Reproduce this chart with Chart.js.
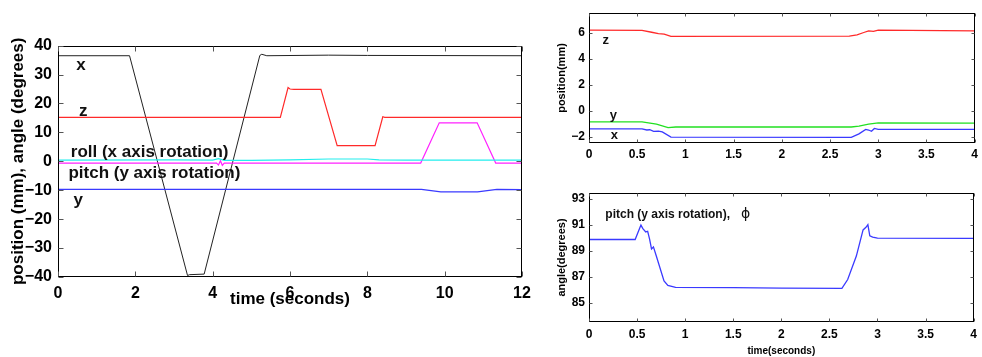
<!DOCTYPE html>
<html>
<head>
<meta charset="utf-8">
<script src="https://cdn.jsdelivr.net/npm/chart.js@4/dist/chart.umd.min.js"></script>
<style>
  body { margin: 0; background: #fff; width: 982px; height: 357px; position: relative; overflow: hidden; }
  canvas { position: absolute; }
</style>
</head>
<body>
<canvas id="motionChart" style="left:0;top:30px;width:540px;height:280px" width="540" height="280"></canvas>
<canvas id="posChart" style="left:555px;top:0;width:427px;height:170px" width="427" height="170"></canvas>
<canvas id="pitchChart" style="left:555px;top:170px;width:427px;height:187px" width="427" height="187"></canvas>
<script>
// left panel: 12 s of motion
const motionTicksX = [0, 2, 4, 6, 8, 10, 12];
const motionTicksY = [-40, -30, -20, -10, 0, 10, 20, 30, 40];

const xTime = [0, 1.85, 3.35, 3.4, 3.78, 5.22, 5.27, 5.4, 7, 8, 12];
const xVal  = [36.5, 36.5, -39.5, -39.2, -39.0, 36.6, 37.0, 36.5, 36.7, 36.6, 36.5];

const zTime = [0, 5.75, 5.95, 6.0, 6.1, 6.8, 7.22, 8.2, 8.4, 8.45, 12];
const zVal  = [15.2, 15.2, 25.5, 25.0, 24.9, 24.9, 5.4, 5.4, 15.4, 15.2, 15.2];

const rollTime = [0, 3, 4, 4.15, 4.3, 5, 6, 7, 8, 8.3, 9, 12];
const rollVal  = [0.4, 0.5, 0.4, 0.9, 0.3, 0.3, 0.5, 0.8, 0.8, 0.5, 0.4, 0.4];

const pitchTime = [0, 4.1, 4.15, 4.2, 4.25, 4.3, 9.38, 9.86, 10.84, 11.32, 12];
const pitchVal  = [-0.6, -0.6, -1.3, 0.2, -1.4, -0.6, -0.6, 13.3, 13.3, -0.6, -0.6];

const yTime = [0, 9.4, 9.9, 10.85, 11.35, 12];
const yVal  = [-9.7, -9.7, -10.6, -10.6, -9.7, -9.8];

// top right panel: position over 4 s
const shortTicksX = [0, 0.5, 1, 1.5, 2, 2.5, 3, 3.5, 4];
const posTicksY = [-2, 0, 2, 4, 6];

const posZTime = [0, 0.55, 0.65, 0.72, 0.78, 0.85, 2.7, 2.78, 2.85, 2.9, 2.95, 3.0, 4];
const posZVal  = [6.18, 6.16, 6.02, 5.92, 5.88, 5.7, 5.72, 5.82, 6.0, 6.12, 6.08, 6.18, 6.13];

const posYTime = [0, 0.55, 0.7, 0.82, 0.9, 2.72, 2.8, 2.9, 3.0, 4];
const posYVal  = [-0.87, -0.88, -1.05, -1.32, -1.27, -1.27, -1.2, -1.05, -0.95, -0.97];

const posXTime = [0, 0.55, 0.6, 0.63, 0.67, 0.72, 0.76, 0.85, 2.72, 2.8, 2.87, 2.9, 2.93, 2.96, 3.0, 4];
const posXVal  = [-1.42, -1.42, -1.5, -1.48, -1.6, -1.58, -1.65, -2.05, -2.06, -1.8, -1.45, -1.5, -1.6, -1.38, -1.45, -1.45];

// bottom right panel: pitch angle
const angleTicksY = [85, 87, 89, 91, 93];
const angleTime = [0, 0.48, 0.54, 0.56, 0.59, 0.61, 0.63, 0.65, 0.67, 0.7, 0.78, 0.82, 0.9, 1.5, 2.0, 2.63, 2.69, 2.78, 2.85, 2.88, 2.9, 2.92, 2.95, 3.0, 4];
const angleVal  = [89.87, 89.87, 90.97, 90.7, 90.45, 90.5, 89.9, 89.15, 89.3, 88.6, 86.7, 86.35, 86.2, 86.18, 86.15, 86.12, 86.8, 88.6, 90.6, 90.8, 91.0, 90.15, 90.05, 89.98, 89.95];

const FONT = "'Liberation Sans', Arial, sans-serif";

function pts(ts, vs) {
  return ts.map((t, i) => ({ x: t, y: vs[i] }));
}

function line(data, color, width) {
  return { data, borderColor: color, borderWidth: width, pointRadius: 0, tension: 0, fill: false };
}

function fmt(v) {
  return v < 0 ? '\u2212' + Math.abs(v) : String(v);
}

// box around the plot with inward ticks, plus text labels placed in data units
const frame = {
  id: 'frame',
  afterDatasetsDraw(chart, args, opts) {
    const { ctx, chartArea: a, scales: { x, y } } = chart;
    const L = Math.round(a.left) + 0.5, R = Math.round(a.right) - 0.5;
    const T = Math.round(a.top) + 0.5, B = Math.round(a.bottom) - 0.5;
    const len = opts.tickLen || 4;
    ctx.save();
    ctx.strokeStyle = '#000';
    ctx.lineWidth = 1;
    ctx.strokeRect(L, T, R - L, B - T);
    ctx.strokeStyle = '#555';
    ctx.beginPath();
    x.ticks.forEach(tk => {
      const px = Math.round(x.getPixelForValue(tk.value)) + 0.5;
      ctx.moveTo(px, B); ctx.lineTo(px, B - len);
      ctx.moveTo(px, T); ctx.lineTo(px, T + len);
    });
    y.ticks.forEach(tk => {
      const py = Math.round(y.getPixelForValue(tk.value)) + 0.5;
      ctx.moveTo(L, py); ctx.lineTo(L + len, py);
      ctx.moveTo(R, py); ctx.lineTo(R - len, py);
    });
    ctx.stroke();
    ctx.fillStyle = '#111';
    ctx.textBaseline = 'alphabetic';
    (opts.labels || []).forEach(lb => {
      ctx.font = lb.font;
      ctx.fillText(lb.text, x.getPixelForValue(lb.t), y.getPixelForValue(lb.v));
    });
    ctx.restore();
  }
};

function makeChart(id, cfg) {
  return new Chart(document.getElementById(id), {
    type: 'line',
    data: { datasets: cfg.datasets },
    options: {
      responsive: false,
      animation: false,
      layout: { padding: cfg.padding },
      plugins: {
        legend: { display: false },
        tooltip: { enabled: false },
        frame: { tickLen: cfg.tickLen, labels: cfg.labels }
      },
      scales: {
        x: {
          type: 'linear',
          min: cfg.xMin, max: cfg.xMax,
          afterBuildTicks: s => { s.ticks = cfg.xTicks.map(v => ({ value: v })); },
          afterFit: s => { s.height = cfg.xHeight; },
          grid: { display: false, drawTicks: false },
          border: { display: false },
          ticks: { color: '#000', padding: cfg.xPad, maxRotation: 0, autoSkip: false,
                   font: { family: FONT, size: cfg.tickSize, weight: 'bold' }, callback: fmt },
          title: { display: true, text: cfg.xTitle, color: '#000', padding: 0,
                   font: { family: FONT, size: cfg.xTitleSize, weight: 'bold' } }
        },
        y: {
          type: 'linear',
          min: cfg.yMin, max: cfg.yMax,
          afterBuildTicks: s => { s.ticks = cfg.yTicks.map(v => ({ value: v })); },
          afterFit: s => { s.width = cfg.yWidth; },
          grid: { display: false, drawTicks: false },
          border: { display: false },
          ticks: { color: '#000', padding: cfg.yPad, autoSkip: false,
                   font: { family: FONT, size: cfg.tickSize, weight: 'bold' }, callback: fmt },
          title: { display: true, text: cfg.yTitle, color: '#000', padding: { top: cfg.yTitlePad, bottom: 0 },
                   font: { family: FONT, size: cfg.yTitleSize, weight: 'bold' } }
        }
      }
    },
    plugins: [frame]
  });
}

makeChart('motionChart', {
  datasets: [
    line(pts(yTime, yVal), '#3a3aff', 1.2),
    line(pts(rollTime, rollVal), '#22eeee', 1.2),
    line(pts(pitchTime, pitchVal), '#ff22ff', 1.2),
    line(pts(zTime, zVal), '#ff2a2a', 1.2),
    line(pts(xTime, xVal), '#222', 1)
  ],
  padding: { top: 14, right: 18, bottom: 0, left: 0 },
  xMin: 0, xMax: 12, xTicks: motionTicksX, xHeight: 33, xPad: 7,
  yMin: -40, yMax: 40, yTicks: motionTicksY, yWidth: 58, yPad: 6,
  tickSize: 16, tickLen: 5,
  xTitle: 'time (seconds)', xTitleSize: 17,
  yTitle: 'position (mm), angle (degrees)', yTitleSize: 17, yTitlePad: 8,
  labels: [
    { text: 'x', t: 0.47, v: 31.7, font: 'bold 17px ' + FONT },
    { text: 'z', t: 0.54, v: 15.7, font: 'bold 17px ' + FONT },
    { text: 'roll (x axis rotation)', t: 0.33, v: 1.55, font: 'bold 17px ' + FONT },
    { text: 'pitch (y axis rotation)', t: 0.27, v: -5.9, font: 'bold 17px ' + FONT },
    { text: 'y', t: 0.4, v: -15.0, font: 'bold 17px ' + FONT }
  ]
});

makeChart('posChart', {
  datasets: [
    line(pts(posZTime, posZVal), '#ff2a2a', 1.3),
    line(pts(posYTime, posYVal), '#22e022', 1.3),
    line(pts(posXTime, posXVal), '#3a3aff', 1.3)
  ],
  padding: { top: 13, right: 3, bottom: 0, left: 0 },
  xMin: 0, xMax: 4, xTicks: shortTicksX, xHeight: 27, xPad: 4,
  yMin: -2.5, yMax: 7.5, yTicks: posTicksY, yWidth: 34, yPad: 4,
  tickSize: 12, tickLen: 3,
  xTitle: '', xTitleSize: 10,
  yTitle: 'position(mm)', yTitleSize: 11, yTitlePad: 0,
  labels: [
    { text: 'z', t: 0.14, v: 5.12, font: 'bold 13px ' + FONT },
    { text: 'y', t: 0.215, v: -0.63, font: 'bold 13px ' + FONT },
    { text: 'x', t: 0.225, v: -2.22, font: 'bold 13px ' + FONT }
  ]
});

makeChart('pitchChart', {
  datasets: [
    line(pts(angleTime, angleVal), '#3a3aff', 1.3)
  ],
  padding: { top: 23, right: 3, bottom: 0, left: 0 },
  xMin: 0, xMax: 4, xTicks: shortTicksX, xHeight: 35, xPad: 5,
  yMin: 83.55, yMax: 93.43, yTicks: angleTicksY, yWidth: 34, yPad: 4,
  tickSize: 12, tickLen: 3,
  xTitle: 'time(seconds)', xTitleSize: 10,
  yTitle: 'angle(degrees)', yTitleSize: 11, yTitlePad: 0,
  labels: [
    { text: 'pitch (y axis rotation),', t: 0.17, v: 91.48, font: 'bold 12px ' + FONT },
    { text: '\u03D5', t: 1.58, v: 91.48, font: '14px DejaVu Sans' }
  ]
});
</script>
</body>
</html>
